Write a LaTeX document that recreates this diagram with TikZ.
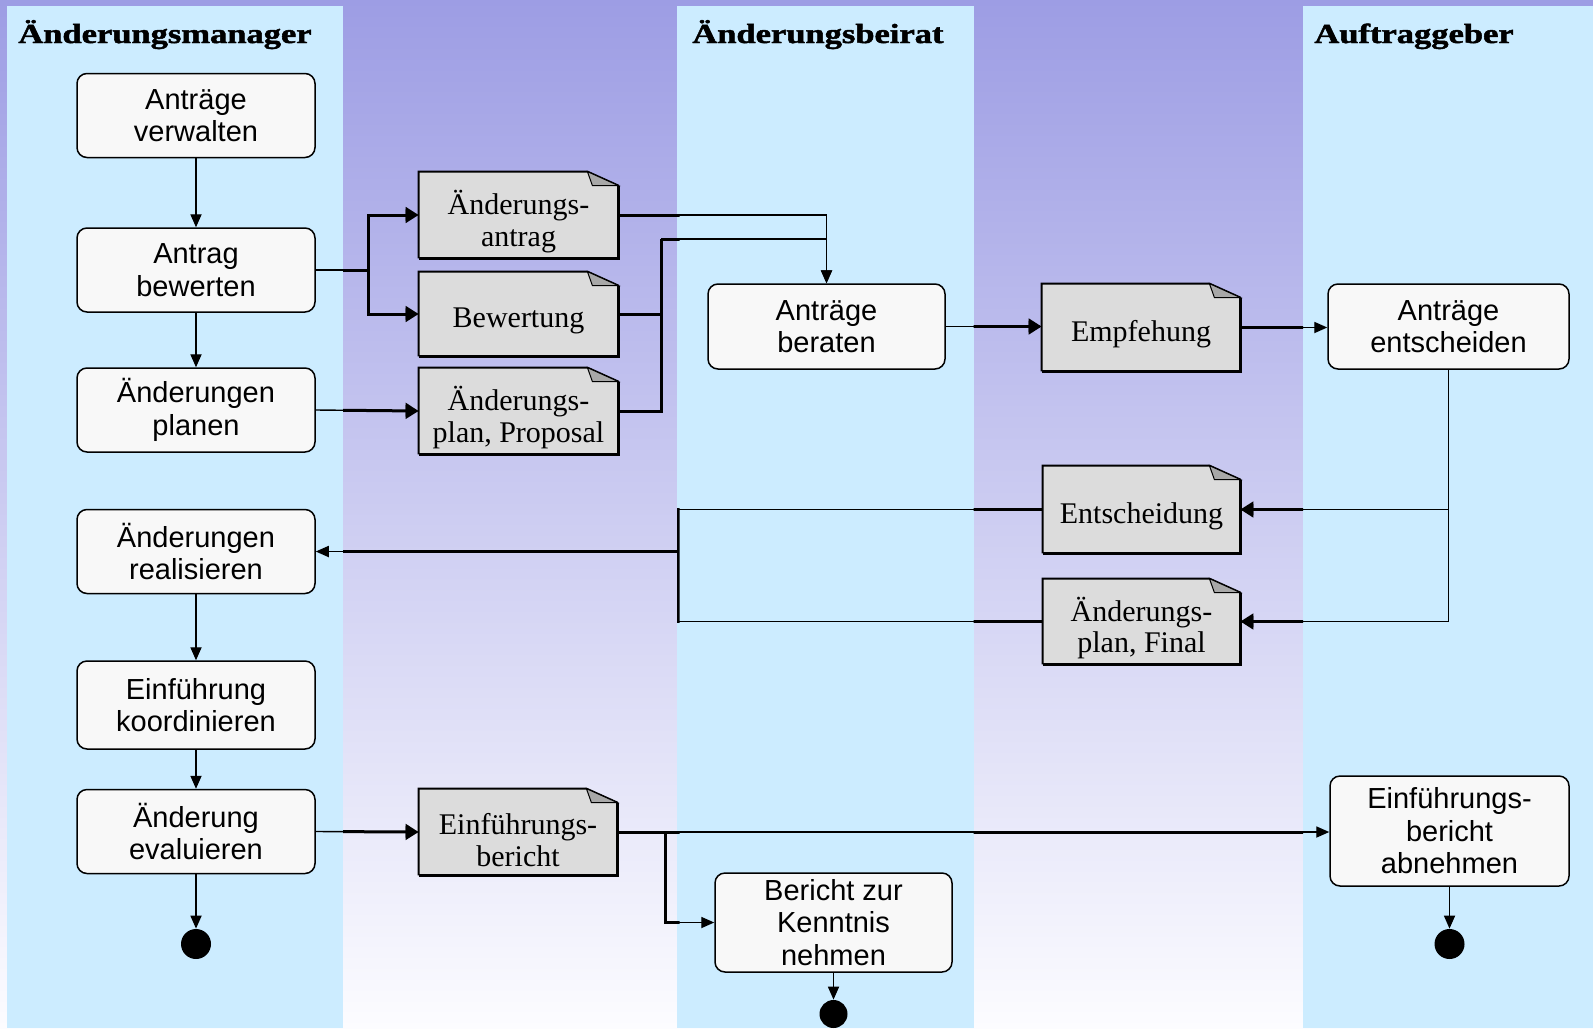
\documentclass[tikz,border=0pt]{standalone}
\usepackage{fontspec}
\usepackage{graphicx}
\setmainfont{Liberation Serif}
\setsansfont{Liberation Sans}
\newfontfamily\titlefont[BoldFeatures={FakeBold=1.6}]{Liberation Serif}
\usetikzlibrary{arrows.meta,calc}
\definecolor{bgtop}{RGB}{157,157,228}
\definecolor{bgbot}{RGB}{252,252,255}
\definecolor{lanecol}{RGB}{204,236,255}
\definecolor{boxfill}{RGB}{248,248,248}
\definecolor{docfill}{RGB}{220,220,220}
\definecolor{foldcol}{RGB}{168,168,168}
\pgfdeclarelayer{bglayer}
\pgfdeclarelayer{doclayer}
\pgfsetlayers{bglayer,doclayer,main}
\tikzset{
  actbox/.style={draw, line width=0.75pt, rounded corners=5pt, fill=boxfill, align=center, inner sep=2pt,
    font=\sffamily\fontsize{14.5}{16.3}\selectfont, minimum width=119pt, minimum height=42pt},
  docbox/.style={align=center, inner sep=2pt, font=\rmfamily\fontsize{15}{15.8}\selectfont,
    minimum width=99.5pt, minimum height=43pt, execute at begin node={\rule{0pt}{17pt}}},
  docboxtwo/.style={docbox, execute at begin node={\rule{0pt}{34.5pt}}},
  lanetitle/.style={anchor=base west, inner sep=0pt, font=\titlefont\bfseries\fontsize{13.8}{16}\selectfont},
  enddot/.style={circle, fill=black, minimum size=15pt, inner sep=0pt},
  arr/.style={-{Triangle[length=6.5pt, width=3.6pt 2.8]}},
}
\newcommand\docdraw[1]{%
  \fill[docfill] (#1.north west) -- ($(#1.north east)+(-31,0)$) -- ($(#1.north east)+(0,14)$) -- (#1.south east) -- (#1.south west) -- cycle;
  \draw[line width=1pt] (#1.south west) -- (#1.north west) -- ($(#1.north east)+(-31,0)$) -- ($(#1.north east)+(0,14)$);
  \draw[line width=1.7pt] ($(#1.north east)+(0,14)$) -- (#1.south east) -- (#1.south west);
  \filldraw[fill=foldcol, line width=0.5pt] ($(#1.north east)+(-31,0)$) -- ($(#1.north east)+(-26,14)$) -- ($(#1.north east)+(0,14)$) -- cycle;
}
\newcommand\myconnectors{%
  \draw[arr] (B1.south) -- (B2.north);
  \draw[arr] (B2.south) -- (B3.north);
  \draw (B2.east) -- (j1);
  \draw[arr] (j1) |- (D1.west);
  \draw[arr] (j1) |- (D2.west);
  \draw[arr] (B3.east) -- (D3.west);
  \draw[arr] (D1.east) -| (A1.north);
  \draw (D2.east) -| (j2);
  \draw (D3.east) -| (j2);
  \draw[arr] (j2) -| (A1.north);
  \draw[arr] (A1.east) -- (A1.east -| E.west);
  \draw[arr] (E.east) -- (E.east -| AE.west);
  \draw[arr] (AE.south) |- (FIN.east);
  \draw[arr] (AE.south |- ENT.east) -- (ENT.east);
  \draw (ENT.west) -| (j4);
  \draw (FIN.west) -| (j4);
  \draw[arr] (j4) -- (B4.east);
  \draw[arr] (B4.south) -- (B5.north);
  \draw[arr] (B5.south) -- (B6.north);
  \draw[arr] (B6.south) -- (K1);
  \draw[arr] (B6.east) -- (D4.west);
  \draw[arr] (D4.east) -- (D4.east -| EBA.west);
  \draw[arr] (j5) |- (BK.west);
  \draw[arr] (EBA.south) -- (K2);
  \draw[arr] (BK.south) -- (K3);
}
\begin{document}
\begin{tikzpicture}[x=0.5pt,y=-0.5pt]
\useasboundingbox (0,0) rectangle (1593,1028);
\begin{pgfonlayer}{bglayer}
  \shade[top color=bgtop, bottom color=bgbot] (0,0) rectangle (1593,1028);
  \fill[lanecol] (6.7,5.5) rectangle (343,1028);
  \fill[lanecol] (677,5.5) rectangle (973.5,1028);
  \fill[lanecol] (1303,5.5) rectangle (1593,1028);
\end{pgfonlayer}
% lane titles
\node[lanetitle] (T1) at (18,43) {\scalebox{1.25}[1]{Änderungsmanager}};
\node[lanetitle] (T2) at (692,43) {\scalebox{1.25}[1]{Änderungsbeirat}};
\node[lanetitle] (T3) at (1314,43) {\scalebox{1.25}[1]{Auftraggeber}};
% activities
\node[actbox] (B1) at (196,115.5) {Anträge\\verwalten};
\node[actbox] (B2) at (196,270) {Antrag\\bewerten};
\node[actbox] (B3) at (196,410) {Änderungen\\planen};
\node[actbox] (B4) at (196,551.5) {Änderungen\\realisieren};
\node[actbox, minimum height=44pt] (B5) at (196,705) {Einführung\\koordinieren};
\node[actbox] (B6) at (196,831.5) {Änderung\\evaluieren};
\node[actbox, minimum width=118.5pt, minimum height=42.5pt] (A1) at (826.5,326.5) {Anträge\\beraten};
\node[actbox, minimum width=120.5pt, minimum height=42.5pt] (AE) at (1448.5,326.5) {Anträge\\entscheiden};
\node[actbox, minimum width=119.5pt, minimum height=55pt] (EBA) at (1449.5,831) {Einführungs-\\bericht\\abnehmen};
\node[actbox, minimum width=118.5pt, minimum height=49.5pt] (BK) at (833.5,922.5) {Bericht zur\\Kenntnis\\nehmen};
% documents
\node[docboxtwo] (D1) at (518.5,215) {Änderungs-\\antrag};
\node[docbox, minimum height=42pt] (D2) at (518.5,314) {Bewertung};
\node[docboxtwo] (D3) at (518.5,411) {Änderungs-\\plan, Proposal};
\node[docboxtwo, minimum width=99pt] (D4) at (518,832) {Einführungs-\\bericht};
\node[docbox, minimum width=99pt, minimum height=43.5pt] (E) at (1141,327.5) {Empfehung};
\node[docbox, minimum width=98.5pt, minimum height=43.5pt] (ENT) at (1141.5,509.5) {Entscheidung};
\node[docboxtwo, minimum width=98.5pt, minimum height=42.5pt] (FIN) at (1141.5,621.5) {Änderungs-\\plan, Final};
\begin{pgfonlayer}{doclayer}
  \docdraw{D1}\docdraw{D2}\docdraw{D3}\docdraw{D4}\docdraw{E}\docdraw{ENT}\docdraw{FIN}
\end{pgfonlayer}
% end points
\node[enddot] (K1) at (196,944) {};
\node[enddot] (K2) at (1449.5,944) {};
\node[enddot, minimum size=14pt] (K3) at (833.5,1014) {};
% junctions
\coordinate (j1) at (368,270);
\coordinate (j2) at (661,239);
\coordinate (j4) at (678,551.5);
\coordinate (j5) at (665,832);
% connectors: thin everywhere, thick between the lanes
\begin{scope}[line width=0.7pt]
  \myconnectors
\end{scope}
\begin{scope}
  \clip (0,0) rectangle (6.7,1028) (343,0) rectangle (679.5,1028) (973.5,0) rectangle (1303,1028);
  \begin{scope}[line width=1.5pt]
    \myconnectors
  \end{scope}
\end{scope}
\end{tikzpicture}
\end{document}
